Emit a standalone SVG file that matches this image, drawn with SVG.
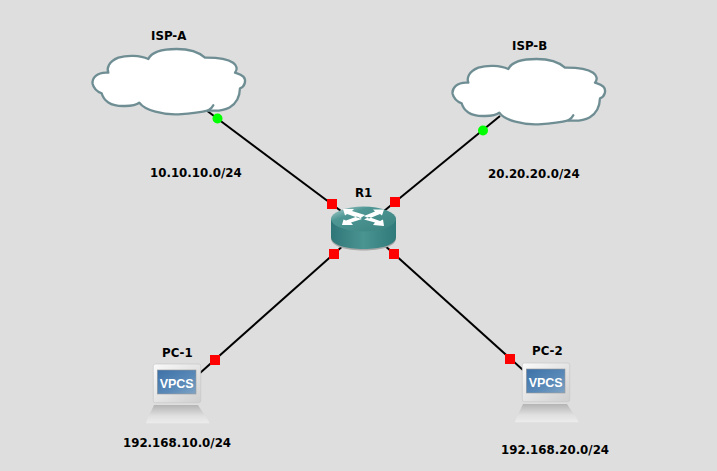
<svg xmlns="http://www.w3.org/2000/svg" width="717" height="471" viewBox="0 0 717 471">
<style>
text{font-family:"DejaVu Sans","Liberation Sans",sans-serif;font-weight:bold;font-size:11.8px;fill:#000}
.link{stroke:#000;stroke-width:2;fill:none}
.port{fill:#f00}
.up{fill:#0f0}
.cloud{fill:#fff;stroke:#6f8e94;stroke-width:7;stroke-linejoin:round;stroke-linecap:round}
</style>
<defs>
<linearGradient id="body" x1="0" x2="1" y1="0" y2="0"><stop offset="0" stop-color="#2f7678"/><stop offset=".5" stop-color="#4a9492"/><stop offset="1" stop-color="#2f7a7a"/></linearGradient>
<linearGradient id="top" x1="0" x2="1" y1="0" y2="1"><stop offset="0" stop-color="#b5d6d4"/><stop offset=".3" stop-color="#4f9795"/><stop offset="1" stop-color="#38827f"/></linearGradient>
<linearGradient id="screen" x1="0" x2="1" y1="0" y2="1"><stop offset="0" stop-color="#3d71a8"/><stop offset=".6" stop-color="#5a8ab8"/><stop offset="1" stop-color="#80a4c4"/></linearGradient>
<linearGradient id="base" x1="0" x2="0" y1="0" y2="1"><stop offset="0" stop-color="#b4b4b4"/><stop offset=".6" stop-color="#e0e0e0"/><stop offset="1" stop-color="#ececec"/></linearGradient>
<linearGradient id="mon" x1="0" x2="1" y1="0" y2="1"><stop offset="0" stop-color="#fafafa"/><stop offset="1" stop-color="#cfcfcf"/></linearGradient>
<g id="cloudshape" transform="scale(.3333)">
<path class="cloud" d="M85,158 C50,155 35,175 38,192 C42,210 60,218 65,220 C70,240 90,260 135,258 C150,258 170,255 178,248 C195,272 250,285 295,283 C325,281 360,278 385,271 C430,276 478,265 480,205 C495,200 500,180 490,170 C482,162 470,160 465,158 C480,140 465,112 375,113 C350,90 310,87 290,87 C250,87 215,95 205,117 C180,105 140,105 115,113 C85,125 80,145 85,158 Z"/>
<path class="cloud" style="fill:none" d="M385,271 C392,268 397,262 400,256"/>
</g>
<g id="pcshape">
<path d="M44,65 L88,65 C92,72 98,78 99.500,83.300 L36,83.300 C37,78 41,72 44,65 Z" fill="url(#base)"/>
<rect x="43.300" y="24" width="47.400" height="38.700" rx="2" fill="url(#mon)" stroke="#c4c4c4" stroke-width=".6"/>
<rect x="47.300" y="30" width="38.700" height="24" fill="url(#screen)" stroke="#9a9a9a" stroke-width=".6"/>
<text x="66.700" y="48" text-anchor="middle" style="fill:#fff;font-family:'Liberation Sans',sans-serif;font-size:12.500px">VPCS</text>
</g>
</defs>
<rect width="717" height="471" fill="#dedede"/>
<g id="connectors">
<line class="link" x1="206" y1="110" x2="345" y2="214"/>
<line class="link" x1="500" y1="116" x2="384" y2="211"/>
<line class="link" x1="200" y1="373" x2="345" y2="244"/>
<line class="link" x1="523" y1="370" x2="383" y2="244"/>
</g>
<g id="ISP-A">
<use href="#cloudshape" x="80" y="20"/>
<text x="151" y="40">ISP-A</text>
</g>
<g id="ISP-B">
<use href="#cloudshape" x="440" y="30"/>
<text x="512" y="50">ISP-B</text>
</g>
<g id="R1">
<path d="M331,219 V238 C331,246 346,250 363.500,250 C381,250 396,246 396,238 V219 Z" fill="#a8a8a8" transform="translate(0,0.500)"/>
<path d="M331,219 V237 C331,245 346,249 363.500,249 C381,249 396,245 396,237 V219 Z" fill="url(#body)"/>
<ellipse cx="363.500" cy="219" rx="32.500" ry="12.500" fill="url(#top)"/>
<path d="M343,209 L354,209 L352,211 L365,215 L360,218.500 L347,214 L345,215.500 Z M384,209.500 L373,209.500 L375,211.500 L364,216 L369,218.500 L380,214 L382,215.500 Z M342,225 L353,225 L351,222.500 L362,219 L357,216.500 L346,220.500 L343.500,219.500 Z M384,226 L373,225 L375,222.500 L364,219.500 L369,217 L380,221 L383,219.500 Z" fill="#fff"/>
<text x="355" y="197">R1</text>
</g>
<g id="PC-1">
<use href="#pcshape" x="110" y="340"/>
<text x="162" y="357">PC-1</text>
</g>
<g id="PC-2">
<use href="#pcshape" x="479" y="339"/>
<text x="532" y="355">PC-2</text>
</g>
<g id="ports">
<circle class="up" cx="217.500" cy="118.500" r="5"/>
<circle class="up" cx="483" cy="130.500" r="5"/>
<rect class="port" x="327" y="199" width="10" height="10"/>
<rect class="port" x="390" y="197" width="10" height="10"/>
<rect class="port" x="329" y="249" width="10" height="10"/>
<rect class="port" x="389" y="249" width="10" height="10"/>
<rect class="port" x="210" y="355" width="10" height="10"/>
<rect class="port" x="505" y="354" width="10" height="10"/>
</g>
<g id="labels">
<text x="150" y="177">10.10.10.0/24</text>
<text x="488" y="178">20.20.20.0/24</text>
<text x="123" y="447">192.168.10.0/24</text>
<text x="501" y="454">192.168.20.0/24</text>
</g>
</svg>
